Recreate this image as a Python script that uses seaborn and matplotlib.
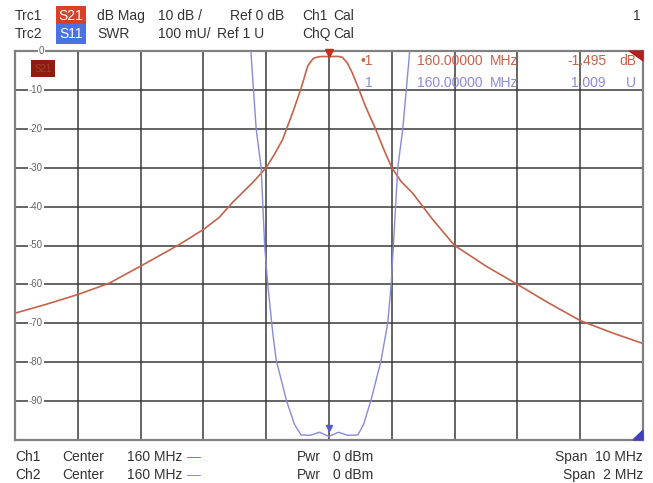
import numpy as np
import pandas as pd
import matplotlib
matplotlib.use("Agg")
import matplotlib.pyplot as plt
import seaborn as sns

# Trace 1: S21 (dB Mag), span 10 MHz around 160 MHz
s21_freq = [155.0, 155.5, 156.0, 156.5, 157.0, 157.6, 158.0, 158.25, 158.46, 158.78,
            159.0, 159.13, 159.26, 159.42, 159.55, 159.66, 159.72, 159.76, 159.85, 159.92,
            160.0, 160.08, 160.15, 160.21, 160.29, 160.37, 160.48, 160.58, 160.74, 160.87,
            161.0, 161.15, 161.33, 161.65, 162.0, 162.5, 163.0, 163.5, 164.0, 164.5, 165.0]
s21_db = [-67.4, -65.1, -62.6, -59.7, -55.3, -49.9, -45.9, -42.8, -39.0, -33.9,
          -30.0, -26.6, -22.8, -15.9, -9.9, -3.9, -2.5, -1.8, -1.45, -1.4,
          -1.45, -1.4, -1.4, -1.6, -3.0, -5.6, -10.0, -14.2, -20.0, -25.2,
          -30.0, -33.6, -36.5, -43.3, -50.0, -55.3, -60.0, -64.8, -69.3, -72.4, -75.2]

# Trace 2: S11 (SWR), span 2 MHz around 160 MHz
s11_freq = [159.74, 159.752, 159.768, 159.784, 159.795, 159.805, 159.821, 159.832, 159.864,
            159.89, 159.911, 159.94, 159.97, 160.0, 160.03, 160.06, 160.092, 160.11,
            160.134, 160.166, 160.178, 160.187, 160.198, 160.205, 160.219, 160.235,
            160.256, 160.27]
s11_swr = [2.2, 1.99, 1.80, 1.70, 1.50, 1.40, 1.274, 1.205, 1.103,
           1.04, 1.013, 1.012, 1.02, 1.009, 1.02, 1.012, 1.013, 1.04,
           1.103, 1.205, 1.26, 1.30, 1.40, 1.50, 1.70, 1.80,
           1.99, 2.2]

y_ticks = [-10, -20, -30, -40, -50, -60, -70, -80, -90]

sns.set_style("white")
plt.rcParams['font.family'] = ['Liberation Sans', 'DejaVu Sans']

W, H = 653, 483
RED = "#c4634a"
BLUE = "#8a8ad8"
TXT = "#333333"

fig = plt.figure(figsize=(W / 100, H / 100), dpi=100)


def px(x, y):
    return x / W, 1 - y / H


rect = [15 / W, 43 / H, 628 / W, 389 / H]
ax = fig.add_axes(rect)
ax.set_xlim(155, 165)
ax.set_ylim(-100, 0)
ax.set_xticks(np.arange(155, 166, 1))
ax.set_yticks(np.arange(-100, 1, 10))
ax.grid(True, color="#3a3a3a", lw=1.1)
ax.tick_params(length=0, labelbottom=False, labelleft=False)
for sp in ax.spines.values():
    sp.set_color("#808080")
    sp.set_linewidth(1.6)

df1 = pd.DataFrame({"freq": s21_freq, "val": s21_db})
sns.lineplot(data=df1, x="freq", y="val", ax=ax, color=RED, lw=1.2)
ax.set_xlabel("")
ax.set_ylabel("")

ax2 = fig.add_axes(rect, frameon=False)
ax2.set_xlim(159, 161)
ax2.set_ylim(1, 2)
df2 = pd.DataFrame({"freq": s11_freq, "val": s11_swr})
sns.lineplot(data=df2, x="freq", y="val", ax=ax2, color=BLUE, lw=1.0)
ax2.axis("off")

# marker triangles
ax.plot([160], [-0.6], marker="v", color="#c03020", ms=6, clip_on=False, zorder=5)
ax2.plot([160], [1.03], marker="v", color="#5858c8", ms=5, zorder=5)

# y tick labels inside the plot
for v in y_ticks:
    ax.text(155.33, v, str(v), ha="center", va="center", fontsize=7, color="#666666",
            bbox=dict(facecolor="white", edgecolor="none", pad=0.6), zorder=4)
ax.text(155.42, 0, "0", ha="center", va="center", fontsize=7, color="#666666",
        bbox=dict(facecolor="white", edgecolor="none", pad=0.6), zorder=4, clip_on=False)

# reference corner triangles
ax.add_patch(plt.Polygon([(1, 1), (0.978, 1), (1, 0.975)], closed=True,
                         transform=ax.transAxes, color="#b02020", clip_on=False, zorder=6))
ax.add_patch(plt.Polygon([(1, 0), (0.984, 0), (1, 0.025)], closed=True,
                         transform=ax.transAxes, color="#4040c0", clip_on=False, zorder=6))

# dark S21 trace label inside plot
fig.text(*px(43, 69), "S21", fontsize=7, color="#a0402c", ha="center", va="center",
         bbox=dict(facecolor="#8e1c10", edgecolor="none", pad=2.5))

# header
fs = 10
for yy, trc, lab, boxc, fmt, scale, ref, ch in [
        (16, "Trc1", "S21", "#d8402a", "dB Mag", "10 dB /", "Ref 0 dB", "Ch1"),
        (34, "Trc2", "S11", "#4a72e0", "SWR", "100 mU/", "Ref 1 U", "ChQ")]:
    fig.text(*px(15, yy), trc, fontsize=fs, color=TXT, va="center")
    fig.text(*px(71, yy), lab, fontsize=fs, color="white", va="center", ha="center",
             bbox=dict(facecolor=boxc, edgecolor="none", pad=2.0))
    fig.text(*px(97, yy), fmt, fontsize=fs, color=TXT, va="center")
    fig.text(*px(158, yy), scale, fontsize=fs, color=TXT, va="center")
    fig.text(*px(230 if yy == 16 else 217, yy), ref, fontsize=fs, color=TXT, va="center")
    fig.text(*px(302, yy), ch, fontsize=fs, color=TXT, va="center")
    fig.text(*px(333, yy), "Cal", fontsize=fs, color=TXT, va="center")
fig.text(*px(641, 16), "1", fontsize=fs, color=TXT, va="center", ha="right")

# marker readout
for yy, col, mk, val, unit in [(61, RED, "•1", "-1.495", "dB"), (83, BLUE, "1", "1.009", "U")]:
    fig.text(*px(373, yy), mk, fontsize=fs, color=col, va="center", ha="right")
    fig.text(*px(417, yy), "160.00000", fontsize=fs, color=col, va="center")
    fig.text(*px(490, yy), "MHz", fontsize=fs, color=col, va="center")
    fig.text(*px(606, yy), val, fontsize=fs, color=col, va="center", ha="right")
    fig.text(*px(636, yy), unit, fontsize=fs, color=col, va="center", ha="right")

# footer
for yy, ch, col, span in [(457, "Ch1", RED, "Span  10 MHz"), (475, "Ch2", BLUE, "Span  2 MHz")]:
    fig.text(*px(15, yy), ch, fontsize=fs, color=TXT, va="center")
    fig.text(*px(62, yy), "Center", fontsize=fs, color=TXT, va="center")
    fig.text(*px(127, yy), "160 MHz", fontsize=fs, color=TXT, va="center")
    fig.text(*px(187, yy), "—", fontsize=fs, color=col, va="center")
    fig.text(*px(297, yy), "Pwr", fontsize=fs, color=TXT, va="center")
    fig.text(*px(333, yy), "0 dBm", fontsize=fs, color=TXT, va="center")
    fig.text(*px(643, yy), span, fontsize=fs, color=TXT, va="center", ha="right")

fig.savefig("out.png", dpi=100)
